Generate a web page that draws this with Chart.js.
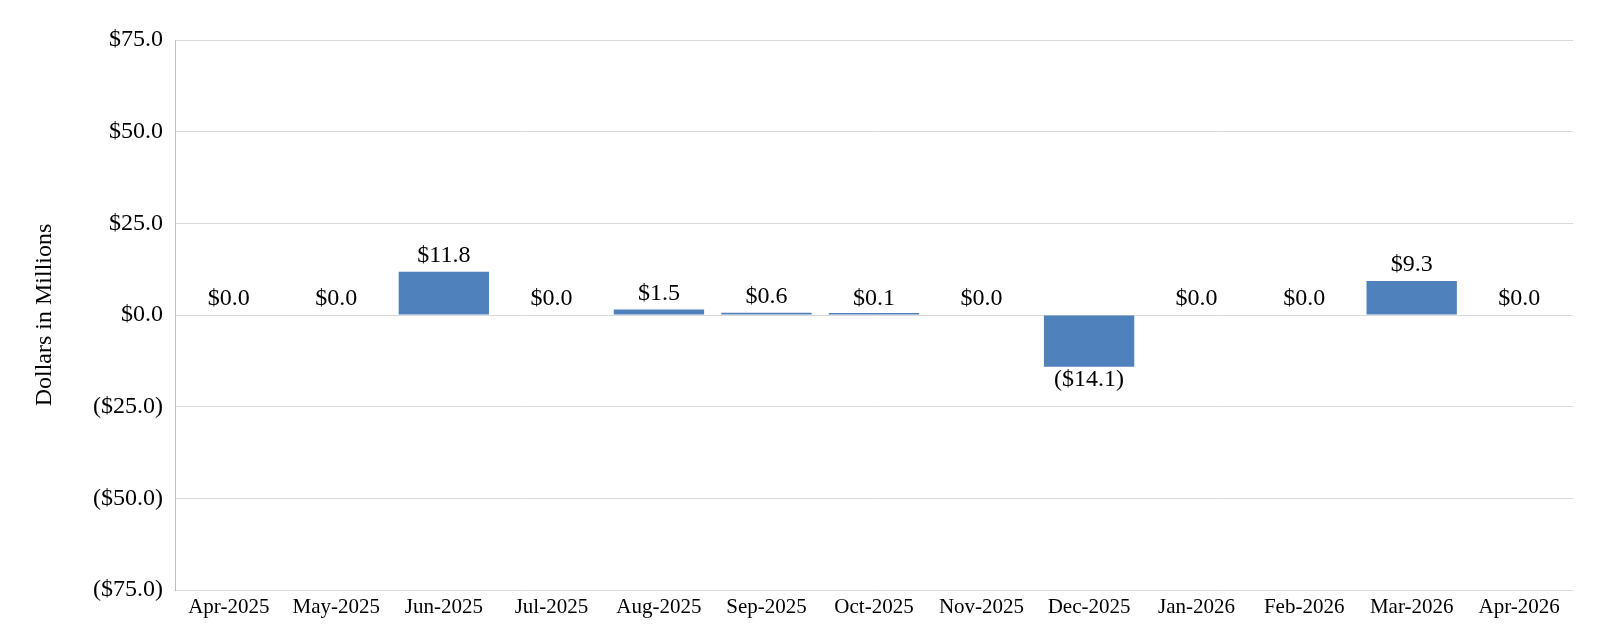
<!DOCTYPE html>
<html>
<head>
<meta charset="utf-8">
<script src="https://cdn.jsdelivr.net/npm/chart.js@4.4.1/dist/chart.umd.min.js"></script>
<style>
  html, body { margin: 0; padding: 0; background: #fff; }
  #wrap { width: 1600px; height: 636px; }
</style>
</head>
<body>
<div id="wrap"><canvas id="chart" width="1600" height="636"></canvas></div>
<script>
// Data
const months = ["Apr-2025", "May-2025", "Jun-2025", "Jul-2025", "Aug-2025", "Sep-2025", "Oct-2025",
  "Nov-2025", "Dec-2025", "Jan-2026", "Feb-2026", "Mar-2026", "Apr-2026"];
const amounts = [0.0, 0.0, 11.8, 0.0, 1.5, 0.6, 0.1, 0.0, -14.1, 0.0, 0.0, 9.3, 0.0];
const yTicks = [-75, -50, -25, 0, 25, 50, 75];

const serif = "'Liberation Serif', 'Times New Roman', serif";

function money(v) {
  const s = "$" + Math.abs(v).toFixed(1);
  return v < 0 ? "(" + s + ")" : s;
}

// Value labels above / below each bar (zero months get a label but no bar)
const barLabels = {
  id: "barLabels",
  afterDatasetsDraw(chart) {
    const ctx = chart.ctx;
    const xs = chart.scales.x;
    const ys = chart.scales.y;
    ctx.save();
    ctx.font = "24px " + serif;
    ctx.fillStyle = "#000";
    ctx.textAlign = "center";
    amounts.forEach((v, i) => {
      const x = xs.getPixelForValue(i);
      const y = ys.getPixelForValue(v);
      if (v < 0) {
        ctx.textBaseline = "top";
        ctx.fillText(money(v), x, y + 1);
      } else {
        ctx.textBaseline = "bottom";
        ctx.fillText(money(v), x, y - 4);
      }
    });
    ctx.restore();
  }
};

const ctx = document.getElementById("chart").getContext("2d");
new Chart(ctx, {
  type: "bar",
  data: {
    labels: months,
    datasets: [{
      data: amounts.map(v => (v === 0 ? null : v)),
      backgroundColor: "#4f81bd",
      borderWidth: 0,
      minBarLength: 2,
      barPercentage: 0.84,
      categoryPercentage: 1.0
    }]
  },
  options: {
    responsive: false,
    animation: false,
    layout: { padding: { top: 40, right: 27, bottom: 0, left: 0 } },
    plugins: {
      legend: { display: false },
      tooltip: { enabled: false }
    },
    scales: {
      x: {
        grid: { display: false },
        border: { display: false },
        ticks: {
          color: "#000",
          font: { family: serif, size: 21 },
          padding: -3,
          maxRotation: 0,
          autoSkip: false
        },
        afterFit(scale) { scale.height = 46; }
      },
      y: {
        min: -75,
        max: 75,
        afterBuildTicks(scale) { scale.ticks = yTicks.map(v => ({ value: v })); },
        grid: { color: "#d9d9d9", drawTicks: false },
        border: { display: true, color: "#bfbfbf" },
        ticks: {
          color: "#000",
          font: { family: serif, size: 24 },
          padding: 12,
          callback: v => money(v)
        },
        title: {
          display: true,
          text: "Dollars in Millions",
          color: "#000",
          font: { family: serif, size: 24 },
          padding: { top: 30, bottom: 0 }
        },
        afterFit(scale) { scale.width = 175; }
      }
    }
  },
  plugins: [barLabels]
});
</script>
</body>
</html>
